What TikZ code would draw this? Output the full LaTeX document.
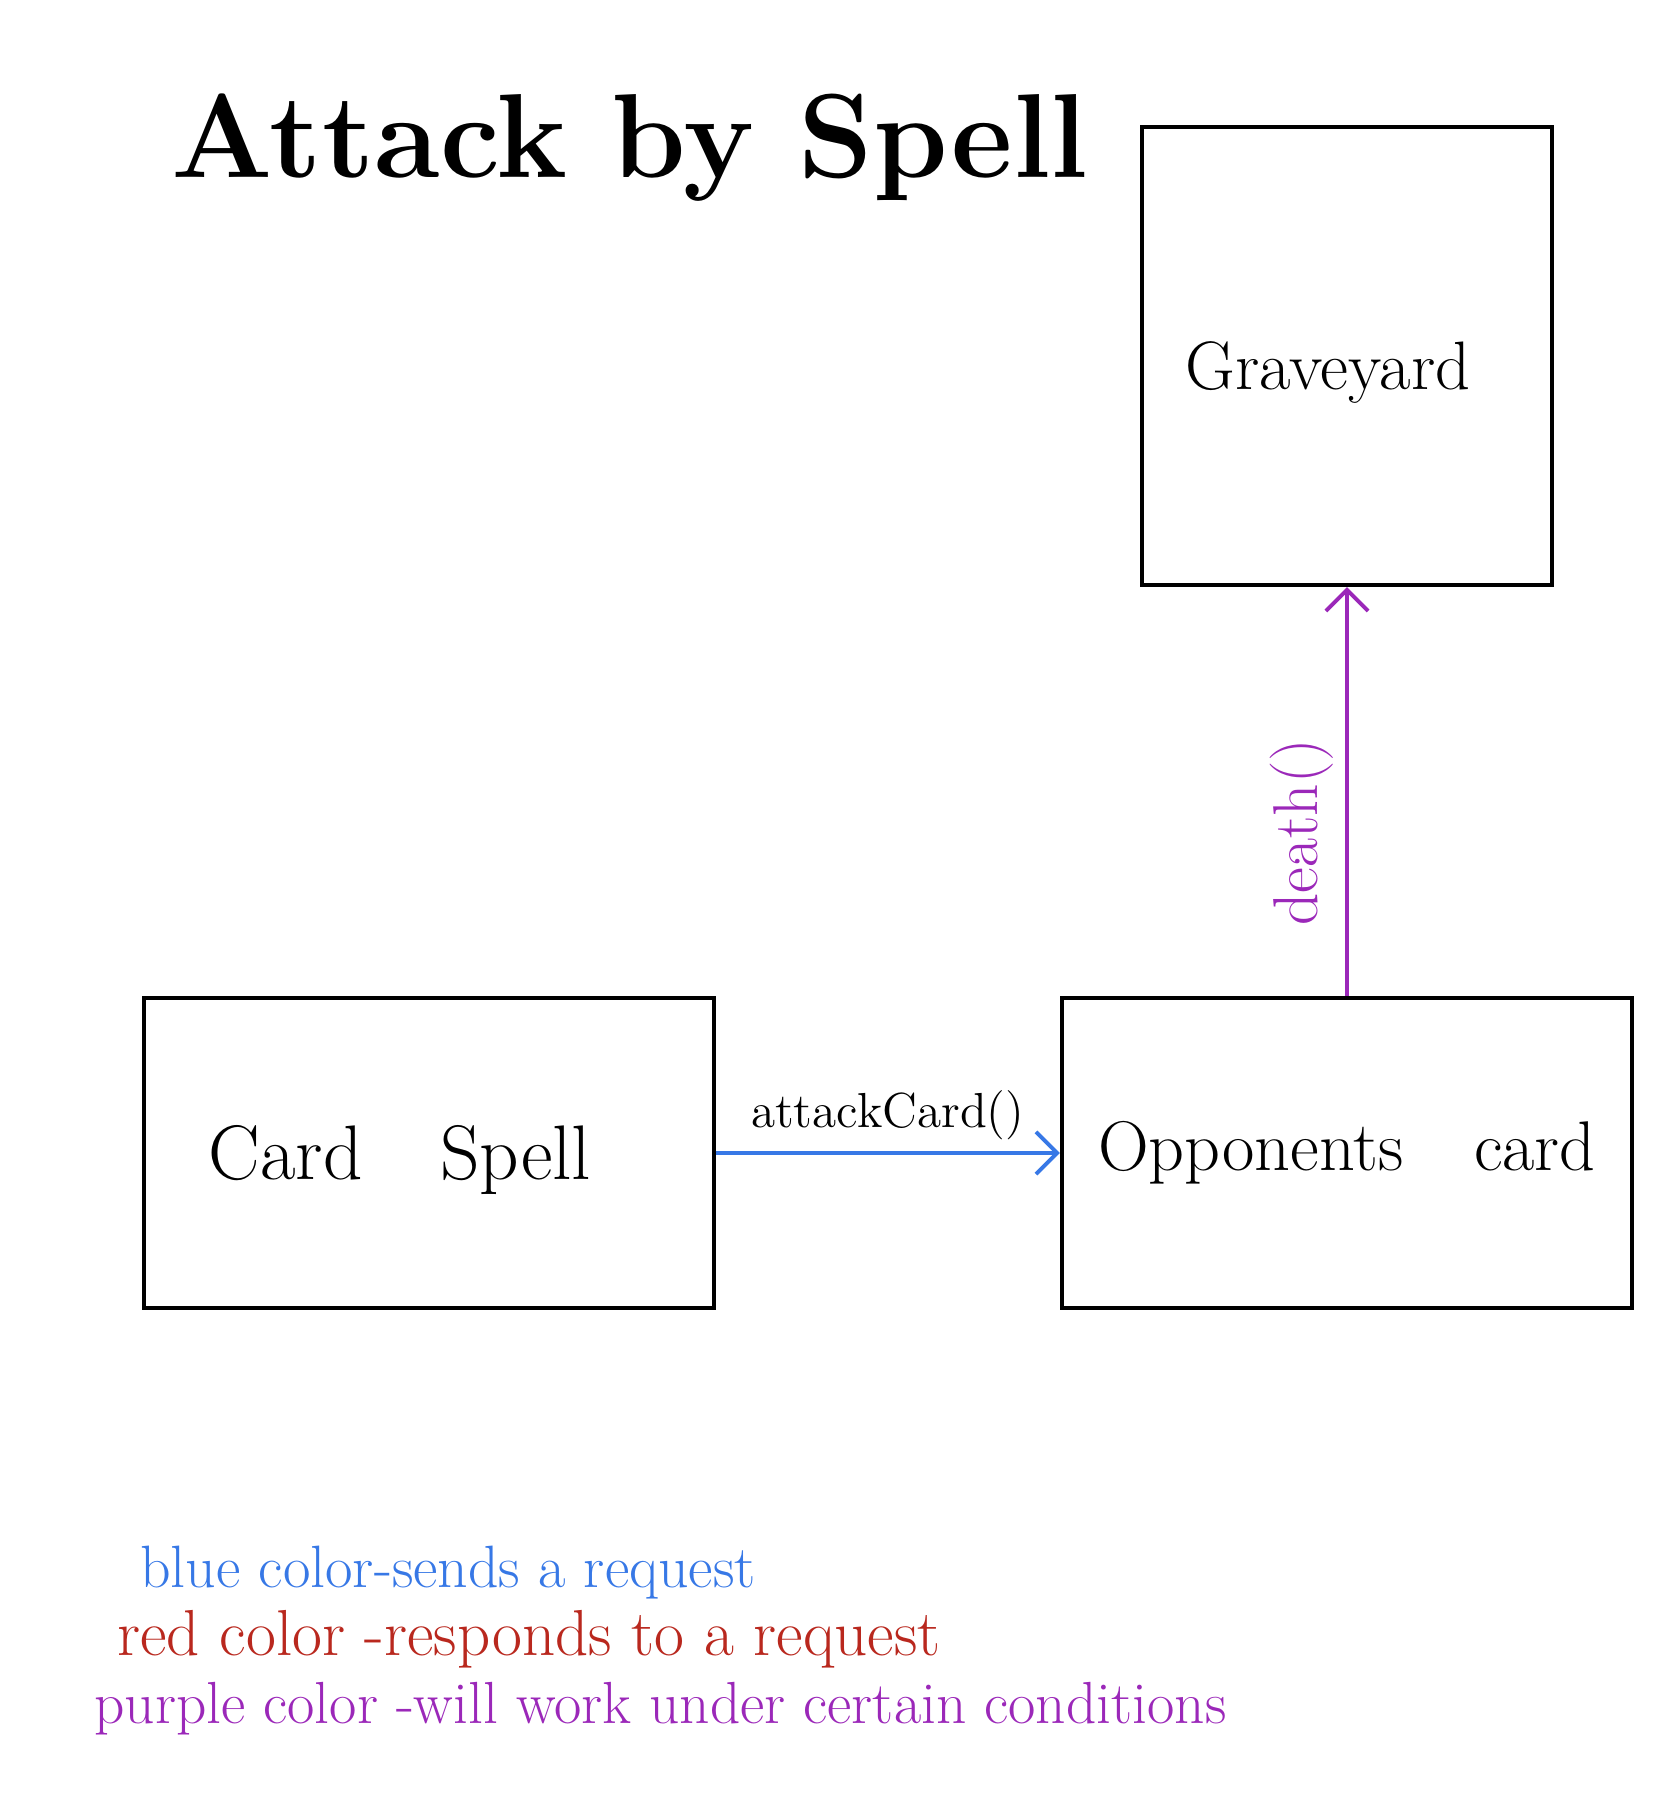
\documentclass[tikz,border=0pt]{standalone}
\usepackage{tikz}
\usetikzlibrary{positioning}
\usetikzlibrary{arrows.meta}
\definecolor{reqblue}{RGB}{55,120,230}
\definecolor{resred}{RGB}{185,40,30}
\definecolor{condpurple}{RGB}{155,40,185}

\begin{document}
\begin{tikzpicture}[x=0.01cm, y=-0.01cm,
  box/.style={draw, line width=1.1pt, inner sep=0pt},
  call/.style={line width=1.1pt, -{Straight Barb[length=6pt,width=12pt,line width=1.1pt]}}]
\useasboundingbox (0,0) rectangle (1668,1820);

\node (title) at (630,148) {\fontsize{34}{40}\selectfont\bfseries Attack by Spell};

\node[box, minimum width=4.09cm, minimum height=4.58cm] (grave) at (1347,356) {};
\node (gravetext) at (1328,372) {\fontsize{19.5}{23}\selectfont Graveyard};
\node[box, minimum width=5.69cm, minimum height=3.10cm] (spell) at (429,1153) {};
\node (spelltext) at (400,1160) {\fontsize{22}{26}\selectfont Card\quad Spell};
\node[box, minimum width=5.70cm, minimum height=3.10cm] (opp) at (1347,1153) {\fontsize{20}{24}\selectfont Opponents\quad card};

\draw[call, reqblue] (spell.east) -- (opp.west) node[midway, above, black] {\fontsize{14}{17}\selectfont attackCard()};
\draw[call, condpurple] (opp.north) -- (grave.south) node[pos=0.4, above, sloped] {\fontsize{18}{21}\selectfont death()};

% legend
\node[anchor=west, text=reqblue] (lblue) at (128,1573) {\fontsize{17}{20}\selectfont blue color-sends a request};
\node[anchor=west, text=resred] (lred) at (105,1639) {\fontsize{18.5}{22}\selectfont red color -responds to a request};
\node[anchor=west, text=condpurple] (lpurple) at (82,1709) {\fontsize{16.9}{20}\selectfont purple color -will work under certain conditions};
\end{tikzpicture}
\end{document}
